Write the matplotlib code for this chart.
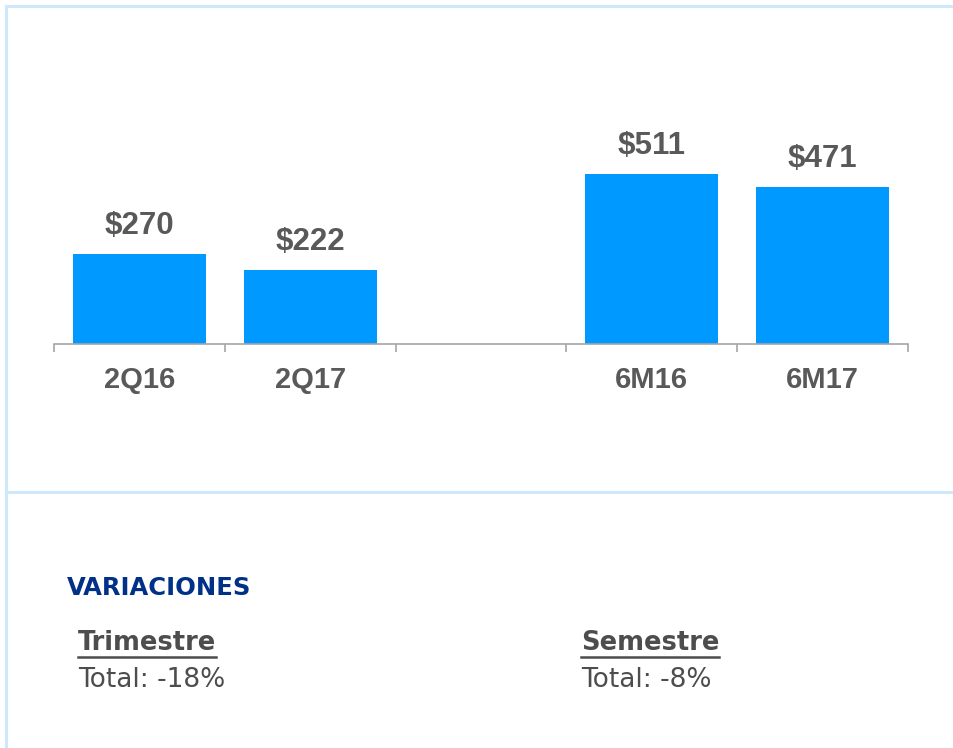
import matplotlib.pyplot as plt
from matplotlib.lines import Line2D

W, H = 954, 748

categories = ['2Q16', '2Q17', '', '6M16', '6M17']
values = [270, 222, None, 511, 471]
value_labels = ['$270', '$222', '', '$511', '$471']

variation_titles = ['Trimestre', 'Semestre']
variation_totals = ['Total: -18%', 'Total: -8%']

bar_color = '#0099FF'
text_grey = '#595959'
border_color = '#CFE8FC'

fig = plt.figure(figsize=(W / 100, H / 100), dpi=100)

def fx(px):
    return px / W

def fy(py):
    return 1 - py / H

# light blue frame lines
fig.add_artist(Line2D([fx(6), fx(954)], [fy(6), fy(6)], color=border_color, lw=2.2))
fig.add_artist(Line2D([fx(6), fx(6)], [fy(6), fy(748)], color=border_color, lw=2.2))
fig.add_artist(Line2D([fx(6), fx(954)], [fy(492), fy(492)], color=border_color, lw=2.2))

# bar chart axes, baseline at y=344 px, 3 units per px
left, right, bottom, top = 54, 908, 344, 44
ax = fig.add_axes([fx(left), fy(bottom), fx(right - left), (bottom - top) / H])
xs = list(range(len(categories)))
heights = [v if v is not None else 0 for v in values]
bars = ax.bar(xs, heights, width=0.78, color=bar_color)
ax.set_xlim(-0.5, len(categories) - 0.5)
ax.set_ylim(0, (bottom - top) * 3.0)

for b, lab in zip(bars, value_labels):
    if lab:
        ax.annotate(lab, (b.get_x() + b.get_width() / 2, b.get_height()),
                    xytext=(0, 20), textcoords='offset points', ha='center', va='center',
                    fontsize=22.5, fontweight='bold', color=text_grey, family='Liberation Sans')

for s in ['top', 'right', 'left']:
    ax.spines[s].set_visible(False)
ax.spines['bottom'].set_color('#A6A6A6')
ax.spines['bottom'].set_linewidth(1.2)
ax.set_yticks([])
ax.set_xticks([i - 0.5 for i in range(len(categories) + 1)], minor=False)
ax.set_xticklabels([])
ax.tick_params(axis='x', length=6, color='#A6A6A6', width=1.2)
for i, c in enumerate(categories):
    ax.text(i, -0.12, c, transform=ax.get_xaxis_transform(), ha='center', va='center',
            fontsize=21, fontweight='bold', color=text_grey, family='Liberation Sans')

# variations section
fig.text(fx(67), fy(588), 'VARIACIONES', ha='left', va='center', fontsize=17.5,
         fontweight='bold', color='#003087', family='DejaVu Sans')

renderer = fig.canvas.get_renderer()
for x0, t, tot in zip([78, 581], variation_titles, variation_totals):
    th = fig.text(fx(x0), fy(643), t, ha='left', va='center', fontsize=18.5,
                  fontweight='bold', color='#4D4D4D', family='DejaVu Sans')
    bb = th.get_window_extent(renderer)
    fig.add_artist(Line2D([bb.x0 / W, bb.x1 / W], [fy(657), fy(657)],
                          color='#4D4D4D', lw=1.8))
    fig.text(fx(x0), fy(680), tot, ha='left', va='center', fontsize=19,
             color='#4D4D4D', family='DejaVu Sans')

fig.savefig('out.png', dpi=100, facecolor='white')
